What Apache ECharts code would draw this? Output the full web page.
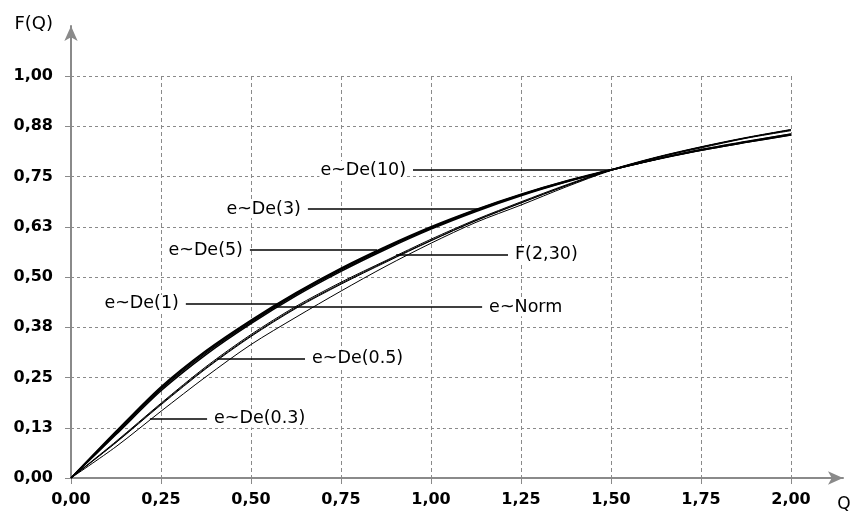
<!DOCTYPE html>
<html>
<head>
<meta charset="utf-8">
<script src="https://cdn.jsdelivr.net/npm/echarts@6/dist/echarts.min.js"></script>
<style>
html, body { margin: 0; padding: 0; background: #fff; }
#chart { width: 859px; height: 516px; }
</style>
</head>
<body>
<div id="chart"></div>
<script>
// Q grid the curves are read at
const qValues = [0, 0.125, 0.25, 0.375, 0.5, 0.625, 0.75, 0.875, 1, 1.125, 1.25, 1.375, 1.5, 1.625, 1.75, 1.875, 2];

// F(Q)
const deTen   = [0, 0.116, 0.227, 0.317, 0.393, 0.461, 0.522, 0.576, 0.625, 0.668, 0.706, 0.739, 0.767, 0.793, 0.815, 0.835, 0.853];
const deThree = [0, 0.114, 0.224, 0.314, 0.390, 0.459, 0.520, 0.574, 0.623, 0.667, 0.705, 0.738, 0.766, 0.792, 0.815, 0.835, 0.854];
const deFive  = [0, 0.111, 0.221, 0.311, 0.387, 0.456, 0.517, 0.572, 0.621, 0.665, 0.704, 0.737, 0.766, 0.793, 0.816, 0.836, 0.855];
const deOne   = [0, 0.108, 0.217, 0.307, 0.384, 0.453, 0.514, 0.569, 0.619, 0.663, 0.702, 0.736, 0.766, 0.793, 0.817, 0.837, 0.856];
const f230    = [0, 0.091, 0.186, 0.277, 0.357, 0.427, 0.487, 0.541, 0.594, 0.643, 0.687, 0.729, 0.767, 0.798, 0.824, 0.847, 0.867];
const eNorm   = [0, 0.089, 0.184, 0.274, 0.354, 0.424, 0.484, 0.539, 0.591, 0.641, 0.685, 0.727, 0.766, 0.797, 0.823, 0.846, 0.866];
const deHalf  = [0, 0.088, 0.182, 0.272, 0.352, 0.422, 0.482, 0.537, 0.590, 0.640, 0.684, 0.727, 0.766, 0.797, 0.823, 0.846, 0.866];
const dePt3   = [0, 0.078, 0.166, 0.252, 0.332, 0.400, 0.465, 0.527, 0.584, 0.636, 0.679, 0.724, 0.765, 0.796, 0.821, 0.845, 0.864];

const xTickLabels = ['0,00', '0,25', '0,50', '0,75', '1,00', '1,25', '1,50', '1,75', '2,00'];
const yTickLabels = ['0,00', '0,13', '0,25', '0,38', '0,50', '0,63', '0,75', '0,88', '1,00'];

// callout labels: text, level F, leader from Q, leader to Q, side of text
const labelText  = ['e~De(10)', 'e~De(3)', 'e~De(5)', 'F(2,30)', 'e~De(1)', 'e~Norm', 'e~De(0.5)', 'e~De(0.3)'];
const labelLevel = [0.766, 0.669, 0.567, 0.555, 0.433, 0.425, 0.297, 0.148];
const leaderFrom = [0.95, 0.658, 0.497, 0.903, 0.319, 0.572, 0.405, 0.219];
const leaderTo   = [1.503, 1.131, 0.85, 1.214, 0.572, 1.142, 0.65, 0.378];
const labelSide  = ['start', 'start', 'start', 'end', 'start', 'end', 'end', 'end'];

const FONT = 'DejaVu Sans';
const GRAY = '#8a8a8a';

function pairs(vals) { return qValues.map((q, i) => [q, vals[i]]); }

const leaders = labelText.map((t, i) => [
  {
    coord: [leaderFrom[i], labelLevel[i]],
    label: {
      show: true, position: labelSide[i], formatter: t, distance: 6,
      color: '#000', fontFamily: FONT, fontSize: 17.5, backgroundColor: '#fff', padding: [0, 1]
    }
  },
  { coord: [leaderTo[i], labelLevel[i]] }
]);

function curve(name, vals, width, z) {
  return {
    name, type: 'line', data: pairs(vals), xAxisIndex: 0, yAxisIndex: 0,
    smooth: 0.3, symbol: 'none', silent: true, z,
    lineStyle: { color: '#000', width }
  };
}

const series = [
  curve('e~De(0.3)', dePt3, 1, 3),
  curve('e~De(0.5)', deHalf, 1, 3),
  curve('e~Norm', eNorm, 1, 3),
  curve('F(2,30)', f230, 1, 3),
  curve('e~De(1)', deOne, 1.5, 4),
  curve('e~De(5)', deFive, 1.5, 4),
  curve('e~De(3)', deThree, 1.5, 4),
  curve('e~De(10)', deTen, 1.5, 4)
];
series[0].markLine = {
  silent: true, animation: false, symbol: ['none', 'none'],
  lineStyle: { color: '#000', width: 1.5, type: 'solid' },
  data: leaders
};

const chart = echarts.init(document.getElementById('chart'));
chart.setOption({
  animation: false,
  backgroundColor: '#fff',
  grid: [
    { left: 71, right: 68, top: 76, bottom: 38 },
    { left: 71, right: 16, top: 26, bottom: 38 }
  ],
  xAxis: [
    {
      type: 'value', gridIndex: 0, min: 0, max: 2, interval: 0.25,
      axisLine: { show: false },
      axisTick: { show: true, length: 6, lineStyle: { color: GRAY, width: 1 } },
      axisLabel: {
        margin: 14, color: '#000', fontFamily: FONT, fontSize: 16, fontWeight: 'bold',
        formatter: v => xTickLabels[Math.round(v / 0.25)]
      },
      splitLine: { show: true, lineStyle: { color: GRAY, type: [4, 3], width: 1 } }
    },
    {
      type: 'value', gridIndex: 1, min: 0, max: 1,
      axisLine: { show: true, symbol: ['none', 'arrow'], symbolSize: [10, 15], lineStyle: { color: GRAY, width: 2 } },
      axisTick: { show: false }, axisLabel: { show: false }, splitLine: { show: false },
      name: 'Q', nameLocation: 'end', nameGap: 1,
      nameTextStyle: { color: '#000', fontFamily: FONT, fontSize: 17, align: 'center', verticalAlign: 'top', padding: [18, 0, 0, 0] }
    }
  ],
  yAxis: [
    {
      type: 'value', gridIndex: 0, min: 0, max: 1, interval: 0.125,
      axisLine: { show: false },
      axisTick: { show: true, length: 6, lineStyle: { color: GRAY, width: 1 } },
      axisLabel: {
        margin: 18, color: '#000', fontFamily: FONT, fontSize: 16, fontWeight: 'bold',
        formatter: v => yTickLabels[Math.round(v / 0.125)]
      },
      splitLine: { show: true, lineStyle: { color: GRAY, type: [3, 3], width: 1 } }
    },
    {
      type: 'value', gridIndex: 1, min: 0, max: 1,
      axisLine: { show: true, symbol: ['none', 'arrow'], symbolSize: [10, 15], lineStyle: { color: GRAY, width: 2 } },
      axisTick: { show: false }, axisLabel: { show: false }, splitLine: { show: false },
      name: 'F(Q)', nameLocation: 'end', nameGap: 2,
      nameTextStyle: { color: '#000', fontFamily: FONT, fontSize: 18, align: 'right', verticalAlign: 'middle', padding: [0, 18, 0, 0] }
    }
  ],
  series
});
</script>
</body>
</html>
